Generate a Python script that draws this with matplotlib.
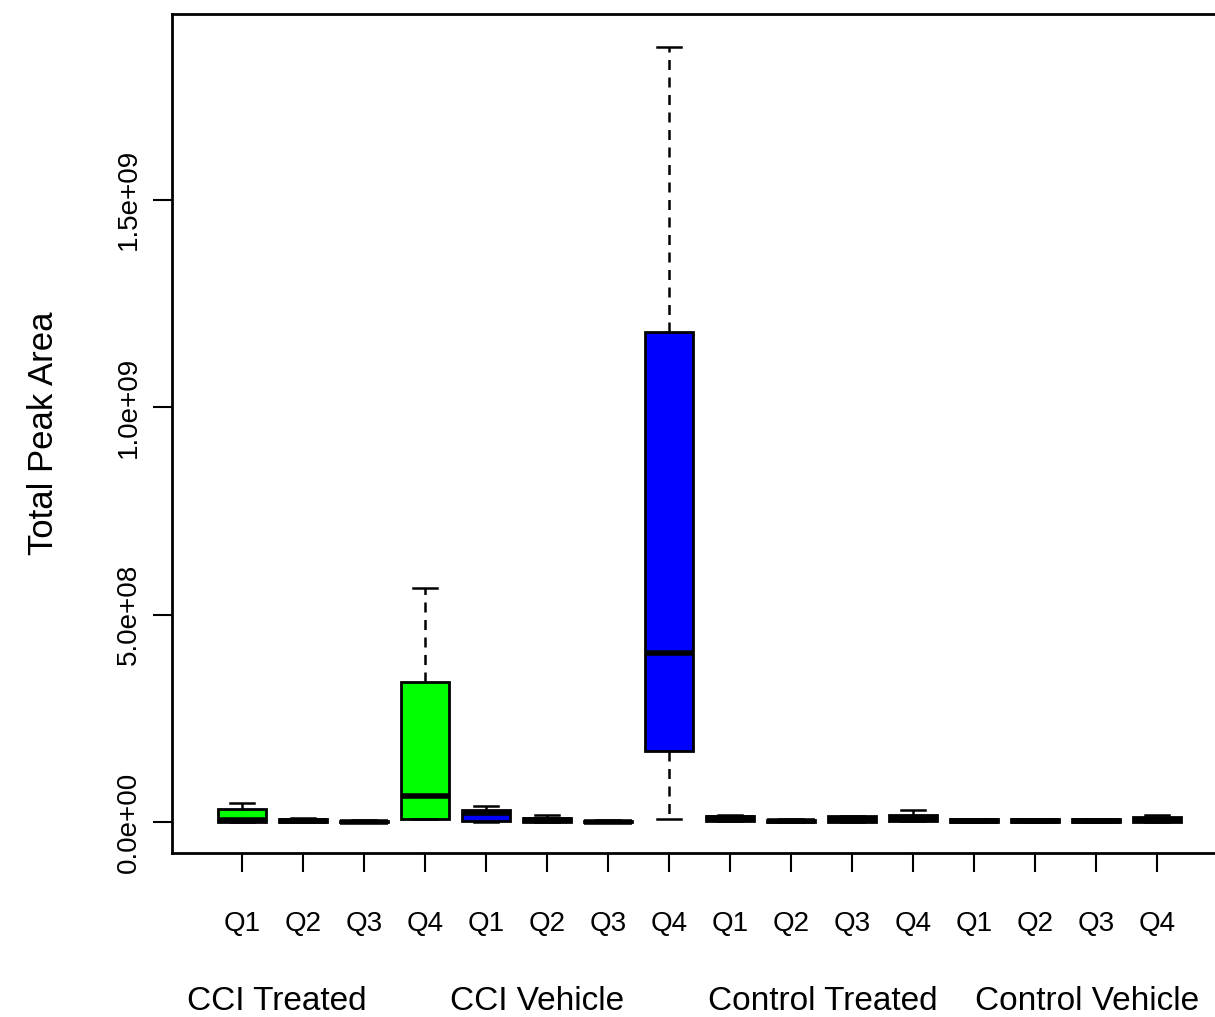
import matplotlib
matplotlib.use("Agg")
import matplotlib.pyplot as plt

plt.rcParams['font.family'] = ['Liberation Sans', 'DejaVu Sans']

# box statistics (lower whisker, q1, median, q3, upper whisker)
quarters = ['Q1', 'Q2', 'Q3', 'Q4'] * 4
groups = ['CCI Treated', 'CCI Vehicle', 'Control Treated', 'Control Vehicle']
group_colors = ['#00ff00', '#0000ff', '#ff0000', '#ffff00']

whislo = [0.0, 0.0, 0.0, 7e6,
          0.0, 0.0, 0.0, 7e6,
          3e6, 0.0, 0.0, 2e6,
          0.0, 0.0, 0.0, 1e6]
q1 = [1e6, 0.5e6, 0.0, 7e6,
      2e6, 0.5e6, 0.0, 1.71e8,
      3e6, 0.5e6, 1e6, 3e6,
      0.5e6, 0.5e6, 0.5e6, 1e6]
med = [4e6, 3e6, 1e6, 6.3e7,
       2.2e7, 4e6, 1e6, 4.07e8,
       1e7, 3e6, 6e6, 8e6,
       3e6, 3e6, 3e6, 5e6]
q3 = [3.1e7, 8e6, 3e6, 3.37e8,
      3e7, 1e7, 3e6, 1.181e9,
      1.5e7, 6e6, 1.4e7, 1.6e7,
      7e6, 7e6, 7e6, 1.3e7]
whishi = [4.6e7, 9e6, 4e6, 5.64e8,
          3.9e7, 1.7e7, 4e6, 1.868e9,
          1.6e7, 7e6, 1.5e7, 2.9e7,
          8e6, 8e6, 8e6, 1.6e7]

group_label_x = [1.57, 5.84, 10.52, 14.85]

stats = []
for i in range(16):
    stats.append({'whislo': whislo[i], 'q1': q1[i], 'med': med[i],
                  'q3': q3[i], 'whishi': whishi[i], 'fliers': []})

fig = plt.figure(figsize=(12.15, 10.17), dpi=100)
ax = fig.add_axes([172/1215, 1-853/1017, (1230-172)/1215, (853-14)/1017])

positions = list(range(1, 17))
bp = ax.bxp(stats, positions=positions, widths=0.8, patch_artist=True,
            showfliers=False,
            boxprops=dict(edgecolor='black', linewidth=2),
            medianprops=dict(color='black', linewidth=4, solid_capstyle='butt'),
            whiskerprops=dict(color='black', linewidth=1.8, linestyle=(0, (4, 3))),
            capprops=dict(color='black', linewidth=1.8), capwidths=0.4)

for i, patch in enumerate(bp['boxes']):
    patch.set_facecolor(group_colors[i // 4])

px = 2.41e6
ax.set_xlim(-0.148, 1 + (1230 - 242) / 61)
ax.set_ylim(-(853 - 822) * px, (822 - 14) * px)

ax.set_yticks([0, 5e8, 1e9, 1.5e9])
ax.set_yticklabels(['0.0e+00', '5.0e+08', '1.0e+09', '1.5e+09'],
                   rotation=90, va='center', fontsize=20)
ax.set_xticks(positions)
ax.set_xticklabels(quarters, fontsize=20)
ax.tick_params(axis='x', length=14, width=1.5, pad=28)
ax.tick_params(axis='y', length=14, width=1.5, pad=8)
ax.set_ylabel('Total Peak Area', fontsize=25, labelpad=40)

for s in ax.spines.values():
    s.set_linewidth(2)

for x, g in zip(group_label_x, groups):
    ax.text(x, -0.177, g, transform=ax.get_xaxis_transform(),
            ha='center', va='center', fontsize=24)

fig.savefig('out.png', dpi=100)
